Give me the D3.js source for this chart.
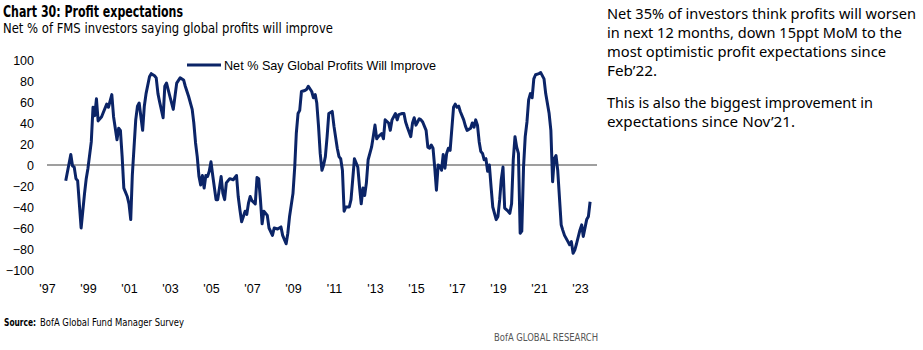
<!DOCTYPE html>
<html>
<head>
<meta charset="utf-8">
<script src="https://cdn.jsdelivr.net/npm/d3@7"></script>
<style>
  body { margin: 0; background: #fff; }
  svg { display: block; }
</style>
</head>
<body>
<svg width="923" height="350"></svg>
<script>
// monthly survey readings (only the months)
var months = [
  "1997-12",
  "1998-03", "1998-04", "1998-05", "1998-06", "1998-07", "1998-09", "1998-11", "1998-12",
  "1999-01", "1999-03", "1999-04", "1999-05", "1999-06", "1999-07", "1999-09", "1999-10", "1999-12",
  "2000-01", "2000-03", "2000-04", "2000-06", "2000-07", "2000-08", "2000-09", "2000-10", "2000-12",
  "2001-01", "2001-02", "2001-03", "2001-04", "2001-05", "2001-06", "2001-07", "2001-09", "2001-10", "2001-11",
  "2002-01", "2002-02", "2002-04", "2002-05", "2002-06", "2002-07", "2002-09", "2002-10", "2002-11",
  "2003-01", "2003-03", "2003-05", "2003-07", "2003-09", "2003-10", "2003-12",
  "2004-02", "2004-03", "2004-04", "2004-05", "2004-06", "2004-07", "2004-08", "2004-09", "2004-10", "2004-11", "2004-12",
  "2005-01", "2005-02", "2005-04", "2005-05", "2005-07", "2005-08", "2005-09", "2005-10", "2005-12",
  "2006-02", "2006-04", "2006-05", "2006-06", "2006-07", "2006-09", "2006-10", "2006-11", "2006-12",
  "2007-01", "2007-03", "2007-04", "2007-05", "2007-06", "2007-07", "2007-08", "2007-10", "2007-11",
  "2008-01", "2008-02", "2008-04", "2008-06", "2008-07", "2008-09", "2008-10", "2008-11",
  "2009-01", "2009-02", "2009-03", "2009-04", "2009-05", "2009-06", "2009-08", "2009-09", "2009-10", "2009-12",
  "2010-01", "2010-02", "2010-03", "2010-04", "2010-05", "2010-06", "2010-07", "2010-08", "2010-09", "2010-10", "2010-12",
  "2011-01", "2011-03", "2011-04", "2011-05", "2011-06", "2011-07", "2011-08", "2011-10", "2011-11", "2011-12",
  "2012-01", "2012-03", "2012-04", "2012-05", "2012-06", "2012-07", "2012-08", "2012-09", "2012-11", "2012-12",
  "2013-01", "2013-02", "2013-03", "2013-05", "2013-06", "2013-07", "2013-09", "2013-10", "2013-11",
  "2014-01", "2014-02", "2014-03", "2014-05", "2014-06", "2014-07", "2014-08", "2014-10", "2014-11", "2014-12",
  "2015-01", "2015-03", "2015-04", "2015-05", "2015-07", "2015-08", "2015-09", "2015-10", "2015-11", "2015-12",
  "2016-01", "2016-02", "2016-03", "2016-04", "2016-05", "2016-06", "2016-07", "2016-08", "2016-09", "2016-11", "2016-12",
  "2017-01", "2017-02", "2017-03", "2017-05", "2017-06", "2017-07", "2017-09", "2017-10", "2017-11", "2017-12",
  "2018-01", "2018-02", "2018-03", "2018-04", "2018-05", "2018-06", "2018-07", "2018-08", "2018-09", "2018-10", "2018-12",
  "2019-01", "2019-02", "2019-03", "2019-04", "2019-05", "2019-07", "2019-08", "2019-09", "2019-10", "2019-11", "2019-12",
  "2020-01", "2020-02", "2020-03", "2020-04", "2020-05", "2020-06", "2020-07", "2020-08", "2020-09", "2020-10", "2020-11",
  "2021-01", "2021-02", "2021-04", "2021-05", "2021-07", "2021-08", "2021-09", "2021-10", "2021-11", "2021-12",
  "2022-02", "2022-03", "2022-04", "2022-06", "2022-07", "2022-08", "2022-09", "2022-10", "2022-11",
  "2023-01", "2023-02", "2023-03", "2023-05", "2023-06", "2023-07"
];
var netImprove = [
  -15,
  10, -1, -2, -13, -15, -60, -27, -13,
  -3, 22, 55, 47, 63, 42, 46, 50, 58,
  55, 67, 46, 24, 35, 33, 8, -22, -30,
  -37, -52, -10, 17, 43, 56, 59, 33, 56, 68,
  84, 87, 85, 83, 68, 60, 45, 75, 78,
  65, 53, 78, 83, 81, 75, 65,
  53, 40, 21, 8, -11, -19, -10, -22, -10, -11, -6,
  3, -10, -33, -33, -11, -27, -33, -17, -13,
  -14, -10, -30, -43, -54, -44, -47, -36, -30,
  -34, -37, -12, -13, -33, -56, -44, -48, -60,
  -67, -60, -61, -59, -67, -75, -65, -49,
  -27, -2, 30, 49, 52, 70, 71, 72, 75, 70,
  64, 67, 59, 37, 11, -5, 0, 8, 27, 49, 51,
  37, 16, 8, 6, -5, -44, -40, -40, -33, -14,
  6, -2, -21, -37, -22, -29, -17, 5, 17, 27,
  38, 25, 27, 30, 25, 43, 40, 33, 43,
  49, 43, 48, 49, 49, 41, 36, 27, 40, 45,
  38, 44, 43, 41, 33, 17, 16, 19, 16, -2,
  -24, 0, -1, -5, 10, -3, 11, 16, 14, 55, 58,
  55, 56, 51, 43, 37, 33, 35, 40, 36, 43,
  38, 22, 13, 11, 5, 6, -6, 0, -21, -40, -52,
  -49, -33, -14, -2, -41, -44, -46, -37, 5, 27, 17,
  11, -65, -63, -2, 27, 41, 62, 68, 64, 82, 86,
  87, 88, 82, 68, 49, 33, -16, 6, 9, -5,
  -57, -62, -67, -73, -76, -73, -84, -81, -75,
  -62, -57, -68, -52, -49, -35
];
var yTicks = [-100, -80, -60, -40, -20, 0, 20, 40, 60, 80, 100];
var xTickYears = [1997, 1999, 2001, 2003, 2005, 2007, 2009, 2011, 2013, 2015, 2017, 2019, 2021, 2023];
var seriesName = "Net % Say Global Profits Will Improve";
var noteLines = [
  ["Net 35% of investors think profits will worsen",
   "in next 12 months, down 15ppt MoM to the",
   "most optimistic profit expectations since",
   "Feb\u201922."],
  ["This is also the biggest improvement in",
   "expectations since Nov\u201921."]
];

var parseMonth = d3.timeParse("%Y-%m");
var data = months.map(function(m, i) {
  return { date: parseMonth(m), value: netImprove[i] };
});

var svg = d3.select("svg");
var navy = "#0b2467";
var font = "'Liberation Sans', Arial, sans-serif";
var narrow = "'Liberation Sans Narrow', 'DejaVu Sans Condensed', 'Liberation Sans', sans-serif";

var x = d3.scaleTime()
  .domain([new Date(1997, 0, 1), new Date(2023, 10, 1)])
  .range([47, 597]);
var y = d3.scaleLinear()
  .domain([-100, 100])
  .range([270, 60]);

// fits a text to a measured width
function fit(sel, w) {
  sel.attr("textLength", w).attr("lengthAdjust", "spacingAndGlyphs");
  return sel;
}

// titles
fit(svg.append("text")
  .attr("x", 3).attr("y", 17)
  .attr("font-family", narrow).attr("font-weight", "bold").attr("font-size", 16)
  .attr("fill", "#000")
  .text("Chart 30: Profit expectations"), 180);
fit(svg.append("text")
  .attr("x", 3).attr("y", 33)
  .attr("font-family", narrow).attr("font-size", 14.5)
  .attr("fill", "#000")
  .text("Net % of FMS investors saying global profits will improve"), 330);

// y axis labels
var yAxis = d3.axisLeft(y).tickValues(yTicks).tickSize(0).tickPadding(0);
var gy = svg.append("g").attr("transform", "translate(34,0)").call(yAxis);
gy.select(".domain").remove();
gy.selectAll("text")
  .attr("font-family", font).attr("font-size", 12.5).attr("fill", "#000");

// x axis labels
var xAxis = d3.axisBottom(x)
  .tickValues(xTickYears.map(function(yr) { return new Date(yr, 0, 1); }))
  .tickFormat(function(d) { return "'" + d3.timeFormat("%y")(d); })
  .tickSize(0).tickPadding(0);
var gx = svg.append("g").attr("transform", "translate(0,284)").call(xAxis);
gx.select(".domain").remove();
gx.selectAll("text")
  .attr("font-family", font).attr("font-size", 12.5).attr("fill", "#000");

// zero line
svg.append("line")
  .attr("x1", x.range()[0]).attr("x2", x.range()[1])
  .attr("y1", y(0)).attr("y2", y(0))
  .attr("stroke", "#7f7f7f").attr("stroke-width", 1.6);

// the series
var line = d3.line()
  .x(function(d) { return x(d.date); })
  .y(function(d) { return y(d.value); });
svg.append("path")
  .datum(data)
  .attr("d", line)
  .attr("fill", "none")
  .attr("stroke", navy)
  .attr("stroke-width", 3)
  .attr("stroke-linejoin", "round");

// legend
var legend = svg.append("g");
legend.append("line")
  .attr("x1", 187).attr("x2", 221).attr("y1", 65).attr("y2", 65)
  .attr("stroke", navy).attr("stroke-width", 3);
fit(legend.append("text")
  .attr("x", 224).attr("y", 70)
  .attr("font-family", font).attr("font-size", 13)
  .attr("fill", "#000")
  .text(seriesName), 212);

// note on the right
var noteWidths = [[309, 295, 279, 50], [266, 188]];
var noteY = [[18.5, 37.5, 56.5, 75.5], [108, 127]];
noteLines.forEach(function(par, p) {
  par.forEach(function(t, i) {
    fit(svg.append("text")
      .attr("x", 607).attr("y", noteY[p][i])
      .attr("font-family", "'Noto Sans', 'Open Sans', sans-serif").attr("font-size", 14.5)
      .attr("fill", "#000")
      .text(t), noteWidths[p][i]);
  });
});

// source + footer
fit(svg.append("text")
  .attr("x", 4).attr("y", 326)
  .attr("font-family", narrow).attr("font-weight", "bold").attr("font-size", 10)
  .attr("fill", "#000")
  .text("Source:"), 32);
fit(svg.append("text")
  .attr("x", 40).attr("y", 326)
  .attr("font-family", narrow).attr("font-size", 10)
  .attr("fill", "#000")
  .text("BofA Global Fund Manager Survey"), 144);
fit(svg.append("text")
  .attr("x", 598).attr("y", 341)
  .attr("text-anchor", "end")
  .attr("font-family", narrow).attr("font-size", 10)
  .attr("fill", "#555")
  .text("BofA GLOBAL RESEARCH"), 104);
</script>
</body>
</html>
